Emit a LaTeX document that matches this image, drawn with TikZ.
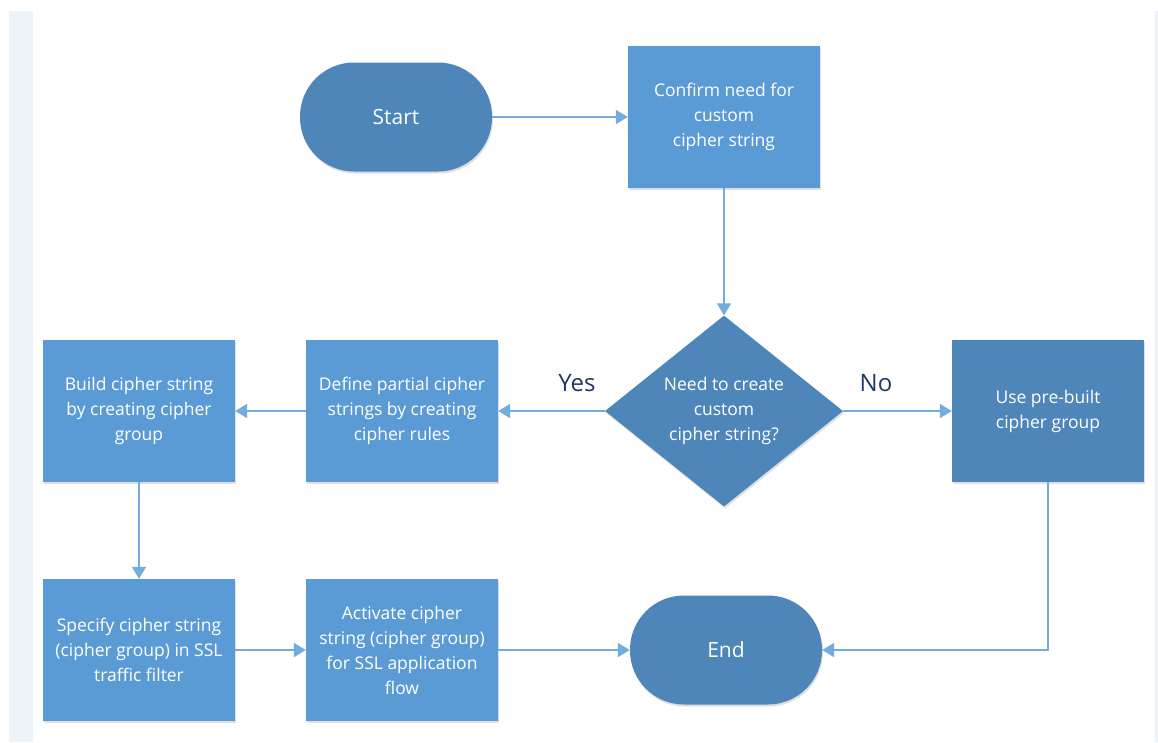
\documentclass[tikz,border=0pt]{standalone}
\usepackage{fontspec}
\setmainfont{Open Sans}
\usetikzlibrary{shapes.geometric,arrows.meta,shadows}

\definecolor{boxblue}{HTML}{5B9BD5}
\definecolor{darkblue}{HTML}{4E86B9}
\definecolor{lineblue}{HTML}{74ACDE}
\definecolor{labelnavy}{HTML}{1F3864}
\definecolor{stripblue}{HTML}{EEF3FA}

\tikzset{
	boxtext/.style={font=\fontsize{17.5}{25}\selectfont, text=white, align=center},
	shade/.style={drop shadow={shadow xshift=1pt, shadow yshift=-2pt, opacity=0.25}},
	procbox/.style={boxtext, shade, rectangle, fill=boxblue, minimum width=192pt, minimum height=142pt, inner sep=0pt},
	darkbox/.style={procbox, fill=darkblue},
	terminal/.style={boxtext, font=\fontsize{21}{25}\selectfont, shade, rectangle, fill=darkblue, rounded corners=54pt, minimum width=192pt, minimum height=109pt, inner sep=0pt},
	decision/.style={boxtext, shade, diamond, fill=darkblue, minimum width=238pt, minimum height=191pt, aspect=1.25, inner sep=0pt},
	answer/.style={font=\fontsize{24}{26}\selectfont, text=labelnavy},
	flow/.style={draw=lineblue, line width=1.8pt, -{Triangle[length=12pt, width=14pt]}}
}

\begin{document}
\begin{tikzpicture}[x=1pt,y=-1pt]

	% Frame
	\useasboundingbox (0,0) rectangle (1158,742);
	\fill[white] (0,0) rectangle (1158,742);
	\fill[stripblue] (9,11) rectangle (33,742);
	\fill[stripblue] (1155,11) rectangle (1158,742);

	% Nodes
	\node[terminal] (start) at (396,117) {Start};
	\node[procbox] (confirm) at (724,117) {Confirm need for\\custom\\cipher string};
	\node[decision] (need) at (724,411) {Need to create\\custom\\cipher string?};
	\node[darkbox] (prebuilt) at (1048,411) {Use pre-built\\cipher group};
	\node[procbox] (define) at (402,411) {Define partial cipher\\strings by creating\\cipher rules};
	\node[procbox] (build) at (139,411) {Build cipher string\\by creating cipher\\group};
	\node[procbox] (specify) at (139,650) {Specify cipher string\\(cipher group) in SSL\\traffic filter};
	\node[procbox] (activate) at (402,650) {Activate cipher\\string (cipher group)\\for SSL application\\flow};
	\node[terminal] (end) at (726,650) {End};

	% Labels
	\node[answer] (yes) at (577,383) {Yes};
	\node[answer] (no) at (876,383) {No};

	% Arrows
	\draw[flow] (start) -- (confirm);
	\draw[flow] (confirm) -- (need);
	\draw[flow] (need) -- (define);
	\draw[flow] (need) -- (prebuilt);
	\draw[flow] (define) -- (build);
	\draw[flow] (build) -- (specify);
	\draw[flow] (specify) -- (activate);
	\draw[flow] (activate) -- (end);
	\draw[flow] (prebuilt.south) |- (end.east);

\end{tikzpicture}
\end{document}
